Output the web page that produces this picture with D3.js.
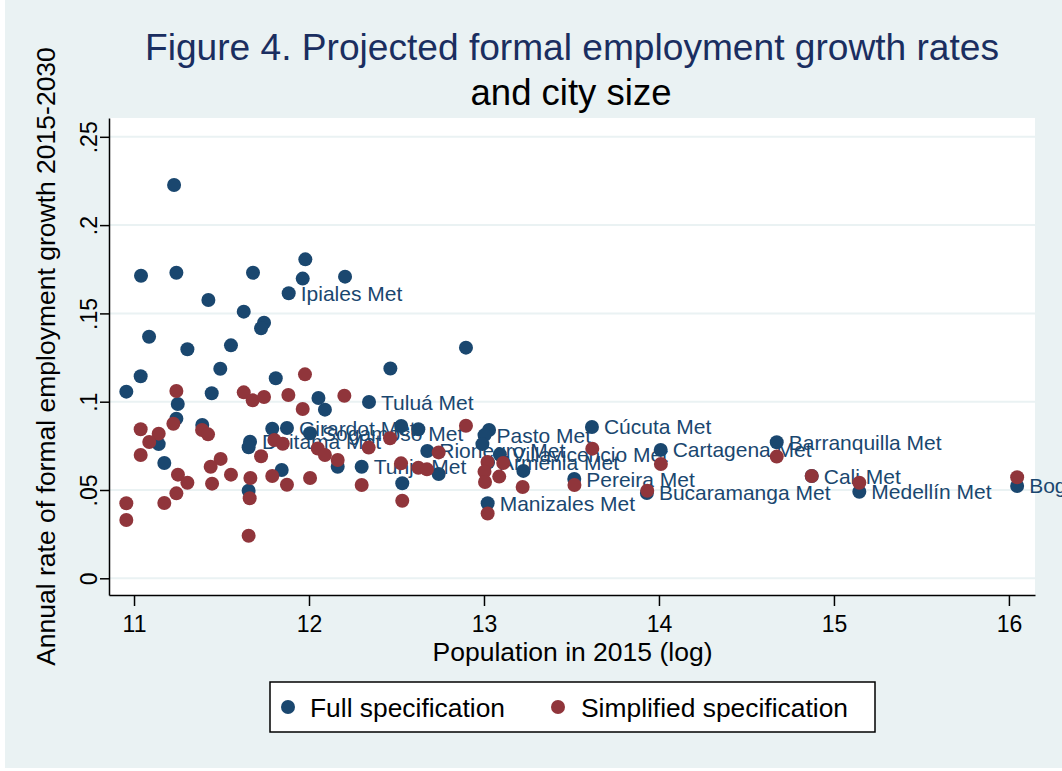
<!DOCTYPE html>
<html>
<head>
<meta charset="utf-8">
<script src="https://cdn.jsdelivr.net/npm/d3@7"></script>
<style>
  html, body { margin: 0; padding: 0; background: #ffffff; }
  svg { display: block; }
  text { font-family: "Liberation Sans", Arial, Helvetica, sans-serif; }
</style>
</head>
<body>
<svg id="chart" width="1062" height="771"></svg>
<script>
// Full specification: log population 2015, projected annual growth, city label
const fullPop = [
  11.229, 11.040, 11.242, 11.680, 11.979, 11.964, 11.884, 11.425, 11.627, 11.743,
  11.726, 11.086, 11.305, 11.554, 11.493, 11.038, 11.810, 10.956, 11.444, 11.250,
  11.242, 11.390, 11.141, 11.173, 11.790, 11.874, 12.006, 12.054, 12.091, 11.663,
  11.655, 11.844, 11.655, 12.206, 12.897, 12.465, 12.343, 12.527, 12.625, 12.676,
  12.301, 12.164, 12.533, 12.741, 13.029, 13.003, 12.991, 13.091, 13.225, 13.021,
  13.617, 13.516, 14.010, 13.931, 14.673, 14.873, 15.145, 16.047, 13.023
];
const fullRate = [
  0.2227, 0.1713, 0.1730, 0.1730, 0.1806, 0.1697, 0.1614, 0.1576, 0.1510, 0.1447,
  0.1416, 0.1368, 0.1297, 0.1319, 0.1187, 0.1144, 0.1133, 0.1057, 0.1048, 0.0987,
  0.0904, 0.0868, 0.0760, 0.0653, 0.0847, 0.0851, 0.0821, 0.1021, 0.0955, 0.0773,
  0.0742, 0.0613, 0.0496, 0.1708, 0.1306, 0.1188, 0.0998, 0.0862, 0.0844, 0.0721,
  0.0632, 0.0632, 0.0538, 0.0591, 0.0840, 0.0811, 0.0760, 0.0701, 0.0608, 0.0425,
  0.0857, 0.0562, 0.0727, 0.0483, 0.0770, 0.0579, 0.0490, 0.0523, 0.0656
];
const fullCity = [
  "", "", "", "", "", "", "Ipiales Met", "", "", "",
  "", "", "", "", "", "", "", "", "", "",
  "", "", "", "", "", "Girardot Met", "Sogamoso Met", "", "", "Duitama Met",
  "", "", "", "", "", "", "Tuluá Met", "", "", "Rionegro Met",
  "Tunja Met", "", "", "", "", "Pasto Met", "", "Villavicencio Met", "", "Manizales Met",
  "Cúcuta Met", "Pereira Met", "Cartagena Met", "Bucaramanga Met", "Barranquilla Met", "Cali Met", "Medellín Met", "Bogotá Met", "Armenia Met"
];

// Simplified specification: log population 2015, projected annual growth
const simpPop = [
  11.977, 11.242, 11.627, 11.678, 11.743, 11.882, 11.964, 11.225, 11.038, 11.141,
  11.087, 11.038, 11.389, 11.423, 11.802, 11.850, 11.726, 12.050, 11.495, 11.438,
  11.251, 11.305, 11.554, 11.446, 11.665, 11.790, 11.874, 12.006, 11.242, 11.173,
  10.956, 10.956, 11.661, 11.655, 12.202, 12.463, 12.341, 12.091, 12.164, 12.301,
  12.526, 12.625, 12.674, 12.741, 12.897, 12.533, 13.020, 13.003, 13.006, 13.087,
  13.110, 13.021, 13.221, 13.619, 13.517, 14.011, 13.933, 14.673, 14.873, 15.145,
  16.047
];
const simpRate = [
  0.1155, 0.1061, 0.1053, 0.1008, 0.1027, 0.1038, 0.0959, 0.0875, 0.0844, 0.0819,
  0.0772, 0.0698, 0.0840, 0.0815, 0.0783, 0.0762, 0.0691, 0.0735, 0.0676, 0.0632,
  0.0587, 0.0541, 0.0587, 0.0536, 0.0568, 0.0579, 0.0530, 0.0568, 0.0481, 0.0426,
  0.0425, 0.0330, 0.0453, 0.0241, 0.1034, 0.0793, 0.0740, 0.0698, 0.0670, 0.0528,
  0.0651, 0.0626, 0.0617, 0.0713, 0.0864, 0.0439, 0.0659, 0.0604, 0.0545, 0.0576,
  0.0653, 0.0367, 0.0517, 0.0734, 0.0528, 0.0647, 0.0496, 0.0689, 0.0579, 0.0541,
  0.0572
];

const xTicks = [11, 12, 13, 14, 15, 16];
const yTicks = [0, 0.05, 0.1, 0.15, 0.2, 0.25];
const yTickLabels = ["0", ".05", ".1", ".15", ".2", ".25"];
const seriesNames = ["Full specification", "Simplified specification"];

const titleLine1 = "Figure 4. Projected formal employment growth rates";
const titleLine2 = "and city size";
const xTitle = "Population in 2015 (log)";
const yTitle = "Annual rate of formal employment growth 2015-2030";

const NAVY = "#1a476f";
const MAROON = "#90353b";
const BG = "#eaf2f3";
const TITLE_NAVY = "#1a2e60";

const svg = d3.select("#chart");
const W = 1062, H = 771;

// outer graph region
svg.append("rect").attr("width", W).attr("height", H).attr("fill", "#ffffff");
svg.append("rect").attr("x", 5).attr("y", 0).attr("width", W - 5).attr("height", 768).attr("fill", BG);

const plot = { left: 109, right: 1035, top: 118, bottom: 595 };

const x = d3.scaleLinear().domain([10.857, 16.149]).range([plot.left, plot.right]);
const y = d3.scaleLinear().domain([-0.00946, 0.26065]).range([plot.bottom, plot.top]);

// plot region
svg.append("rect")
  .attr("x", plot.left).attr("y", plot.top)
  .attr("width", plot.right - plot.left).attr("height", plot.bottom - plot.top)
  .attr("fill", "#ffffff");

// horizontal grid
svg.append("g").selectAll("line").data(yTicks).join("line")
  .attr("x1", plot.left).attr("x2", plot.right)
  .attr("y1", d => y(d)).attr("y2", d => y(d))
  .attr("stroke", BG).attr("stroke-width", 2);

// x axis
const xAxis = svg.append("g")
  .attr("transform", `translate(0,${plot.bottom})`)
  .call(d3.axisBottom(x).tickValues(xTicks).tickSize(11).tickSizeOuter(0).tickFormat(d3.format("d")));
xAxis.select(".domain").attr("stroke", "#000").attr("stroke-width", 1.5);
xAxis.selectAll(".tick line").attr("stroke", "#000").attr("stroke-width", 1.5);
xAxis.selectAll(".tick text")
  .attr("y", 37).attr("dy", 0)
  .attr("font-size", 23).attr("fill", "#000")
  .style("font-family", '"Liberation Sans", Arial, Helvetica, sans-serif');

// y axis
const yAxis = svg.append("g")
  .attr("transform", `translate(${plot.left},0)`)
  .call(d3.axisLeft(y).tickValues(yTicks).tickSize(9).tickSizeOuter(0)
    .tickFormat((d, i) => yTickLabels[i]));
yAxis.select(".domain").attr("stroke", "#000").attr("stroke-width", 1.5);
yAxis.selectAll(".tick line").attr("stroke", "#000").attr("stroke-width", 1.5);
yAxis.selectAll(".tick text")
  .attr("x", 0).attr("y", -12).attr("dy", 0)
  .attr("text-anchor", "middle")
  .attr("transform", "rotate(-90)")
  .attr("font-size", 23).attr("fill", "#000")
  .style("font-family", '"Liberation Sans", Arial, Helvetica, sans-serif');

// axis titles
svg.append("text")
  .attr("x", (plot.left + plot.right) / 2 + 0.5).attr("y", 661)
  .attr("text-anchor", "middle").attr("font-size", 26.5).attr("fill", "#000")
  .text(xTitle);

svg.append("text")
  .attr("transform", `translate(55,${(plot.top + plot.bottom) / 2}) rotate(-90)`)
  .attr("text-anchor", "middle").attr("font-size", 26.5).attr("fill", "#000")
  .text(yTitle);

// title
svg.append("text")
  .attr("x", 572).attr("y", 59.5)
  .attr("text-anchor", "middle").attr("font-size", 36).attr("fill", TITLE_NAVY)
  .attr("textLength", 854).attr("lengthAdjust", "spacingAndGlyphs")
  .text(titleLine1);
svg.append("text")
  .attr("x", 571).attr("y", 105)
  .attr("text-anchor", "middle").attr("font-size", 36).attr("fill", "#000")
  .attr("textLength", 201).attr("lengthAdjust", "spacingAndGlyphs")
  .text(titleLine2);

// markers and labels
const R = 7;
const full = fullPop.map((p, i) => ({ p, r: fullRate[i], c: fullCity[i] }));
const simp = simpPop.map((p, i) => ({ p, r: simpRate[i] }));

const gPts = svg.append("g");
gPts.selectAll("circle.full").data(full).join("circle")
  .attr("class", "full")
  .attr("cx", d => x(d.p)).attr("cy", d => y(d.r)).attr("r", R)
  .attr("fill", NAVY);

gPts.selectAll("text.city").data(full.filter(d => d.c)).join("text")
  .attr("class", "city")
  .attr("x", d => x(d.p) + 12).attr("y", d => y(d.r) + 7.5)
  .attr("font-size", 21).attr("fill", NAVY)
  .text(d => d.c);

gPts.selectAll("circle.simp").data(simp).join("circle")
  .attr("class", "simp")
  .attr("cx", d => x(d.p)).attr("cy", d => y(d.r)).attr("r", R)
  .attr("fill", MAROON);

// legend
const legend = svg.append("g");
legend.append("rect")
  .attr("x", 270).attr("y", 682).attr("width", 605).attr("height", 50)
  .attr("fill", "#ffffff").attr("stroke", "#000").attr("stroke-width", 1.5);
const legendItems = [
  { name: seriesNames[0], color: NAVY, mx: 288, tx: 310, len: 195 },
  { name: seriesNames[1], color: MAROON, mx: 558, tx: 581, len: 267 }
];
legendItems.forEach(it => {
  legend.append("circle").attr("cx", it.mx).attr("cy", 707).attr("r", R).attr("fill", it.color);
  legend.append("text").attr("x", it.tx).attr("y", 716.5)
    .attr("font-size", 25).attr("fill", "#000")
    .attr("textLength", it.len).attr("lengthAdjust", "spacingAndGlyphs")
    .text(it.name);
});
</script>
</body>
</html>
